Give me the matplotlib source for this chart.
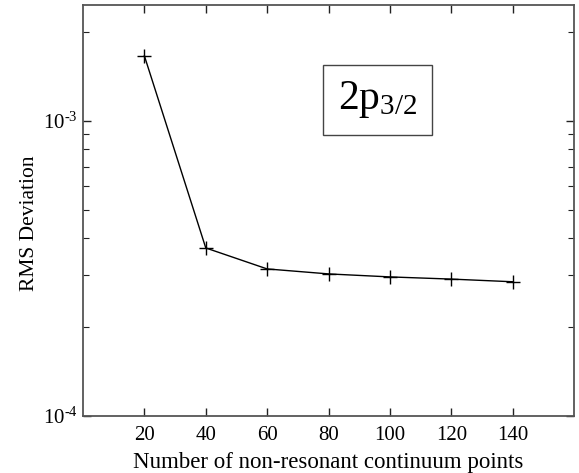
import numpy as np
import matplotlib.pyplot as plt
from matplotlib.ticker import FixedLocator, FixedFormatter, LogLocator, NullFormatter

plt.rcParams['font.family'] = ['Liberation Serif', 'DejaVu Serif']
plt.rcParams['mathtext.fontset'] = 'custom'
plt.rcParams['mathtext.rm'] = 'Liberation Serif'
plt.rcParams['mathtext.it'] = 'Liberation Serif:italic'

# RMS deviation vs number of non-resonant continuum points
n_points = [20, 40, 60, 80, 100, 120, 140]
rms_dev = [1.66e-3, 3.71e-4, 3.15e-4, 3.03e-4, 2.96e-4, 2.91e-4, 2.85e-4]

fig = plt.figure(figsize=(5.79, 4.73), dpi=100)
ax = fig.add_axes([0.1434, 0.1205, 0.848, 0.869])

ax.plot(n_points, rms_dev, color='black', lw=1.0, marker='+', ms=10, mew=1.0)

ax.set_yscale('log')
ax.set_xlim(0, 160)
ax.set_ylim(1e-4, 2.47e-3)

ax.xaxis.set_major_locator(FixedLocator(n_points))
ax.yaxis.set_major_locator(FixedLocator([1e-4, 1e-3]))
ax.yaxis.set_major_formatter(FixedFormatter([r'$\mathregular{10^{\text{-}4}}$', r'$\mathregular{10^{\text{-}3}}$']))
ax.yaxis.set_minor_locator(LogLocator(base=10, subs=np.arange(2, 10)))
ax.yaxis.set_minor_formatter(NullFormatter())

ax.tick_params(which='both', direction='in', top=True, right=True, color='#222222')
ax.tick_params(axis='x', labelsize=15, pad=7)
ax.tick_params(axis='y', labelsize=15, pad=4)
ax.tick_params(which='major', length=6, width=1.0)
ax.tick_params(which='minor', length=4, width=0.8)

for s in ax.spines.values():
    s.set_color('#555555')
    s.set_linewidth(1.3)

ax.set_xlabel('Number of non-resonant continuum points', fontsize=16.5)
ax.set_ylabel('RMS Deviation', fontsize=15.5)
ax.xaxis.set_label_coords(0.5, -0.087)
ax.yaxis.set_label_coords(-0.09, 0.47)

ax.text(0.60, 0.769, r'2p$_{\mathregular{3/2}}$', transform=ax.transAxes, fontsize=30,
        ha='center', va='center',
        bbox=dict(boxstyle='square,pad=0.35', fc='white', ec='#444444', lw=1.0))

fig.savefig('out.png', dpi=100)
